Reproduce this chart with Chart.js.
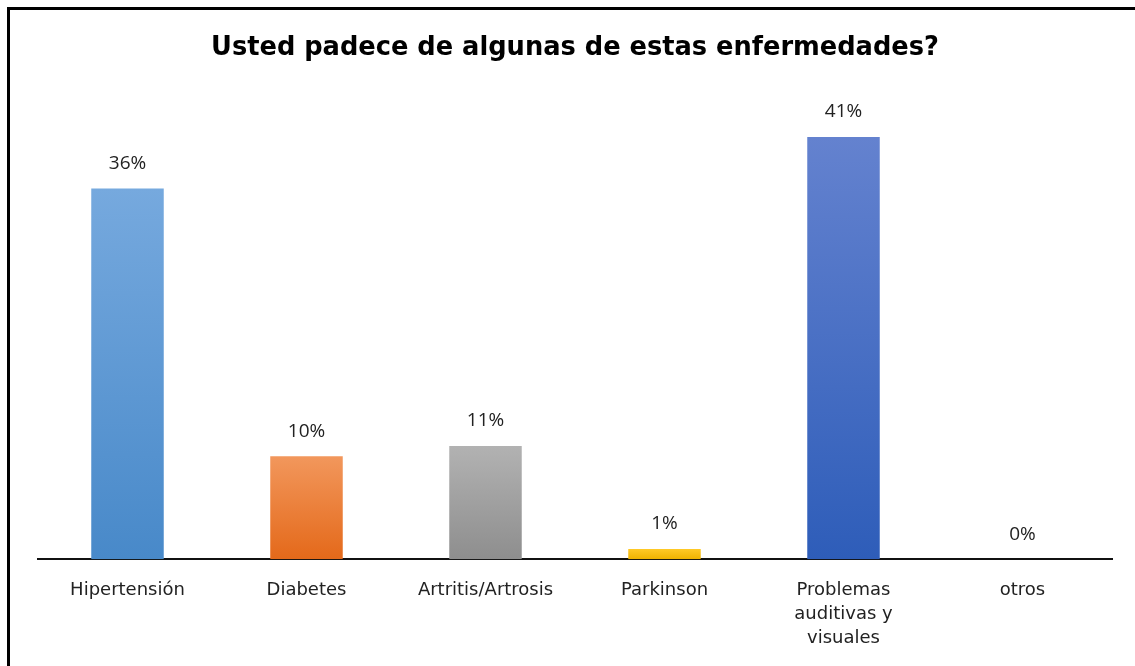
<!DOCTYPE html>
<html>
<head>
<meta charset="utf-8">
<script src="https://cdn.jsdelivr.net/npm/chart.js@4/dist/chart.umd.min.js"></script>
<style>
  html, body { margin: 0; padding: 0; background: #fff; }
  #wrap { position: relative; width: 1135px; height: 666px; }
  #frame { position: absolute; left: 7px; top: 7px; right: -10px; bottom: -10px;
           border-left: 3px solid #000; border-top: 3px solid #000; pointer-events: none; }
</style>
</head>
<body>
<div id="wrap">
  <canvas id="chart" width="1135" height="666"></canvas>
  <div id="frame"></div>
</div>
<script>
const categories = ['Hipertensión', 'Diabetes', 'Artritis/Artrosis', 'Parkinson',
  ['Problemas', 'auditivas y', 'visuales'], 'otros'];
const percentages = [36, 10, 11, 1, 41, 0];
const valueLabels = ['36%', '10%', '11%', '1%', '41%', '0%'];

// top / bottom colour of each bar's gradient
const topColors = ['#76a9de', '#f2975c', '#b2b2b2', '#ffca28', '#6482cf', '#4472c4'];
const bottomColors = ['#4889c9', '#e4691a', '#8e8e8e', '#efb300', '#2e5db9', '#2e5db9'];

const valueLabelPlugin = {
  id: 'valueLabels',
  afterDatasetsDraw(chart) {
    const ctx = chart.ctx;
    const meta = chart.getDatasetMeta(0);
    ctx.save();
    ctx.font = '19px "Open Sans", "Liberation Sans", sans-serif';
    ctx.fillStyle = '#222';
    ctx.textAlign = 'center';
    ctx.textBaseline = 'middle';
    meta.data.forEach((bar, i) => {
      ctx.fillText(valueLabels[i], bar.x, bar.y - 25);
    });
    ctx.restore();
  }
};

new Chart(document.getElementById('chart').getContext('2d'), {
  type: 'bar',
  data: {
    labels: categories,
    datasets: [{
      data: percentages,
      backgroundColor(context) {
        const chart = context.chart;
        const area = chart.chartArea;
        const i = context.dataIndex;
        if (!area || !chart.scales.y) return topColors[i];
        let top = chart.scales.y.getPixelForValue(percentages[i]);
        if (!isFinite(top) || top >= area.bottom) top = area.top;
        const g = chart.ctx.createLinearGradient(0, top, 0, area.bottom);
        g.addColorStop(0, topColors[i]);
        g.addColorStop(1, bottomColors[i]);
        return g;
      },
      categoryPercentage: 1,
      barPercentage: 0.405,
      borderWidth: 0
    }]
  },
  options: {
    responsive: false,
    animation: false,
    layout: { padding: { left: 38, right: 23, top: 23, bottom: 5 } },
    plugins: {
      legend: { display: false },
      tooltip: { enabled: false },
      title: {
        display: true,
        text: 'Usted padece de algunas de estas enfermedades?',
        color: '#000',
        font: { family: '"DejaVu Sans", sans-serif', size: 25.7, weight: 'bold', lineHeight: 1.2 },
        padding: { top: 10, bottom: 32 }
      }
    },
    scales: {
      y: { display: false, min: 0, max: 45 },
      x: {
        grid: { display: false },
        border: { display: true, color: '#111', width: 2 },
        ticks: {
          color: '#222',
          padding: 11,
          maxRotation: 0,
          autoSkip: false,
          font: { family: '"DejaVu Sans", sans-serif', size: 18, lineHeight: 1.33 }
        }
      }
    }
  },
  plugins: [valueLabelPlugin]
});
</script>
</body>
</html>
